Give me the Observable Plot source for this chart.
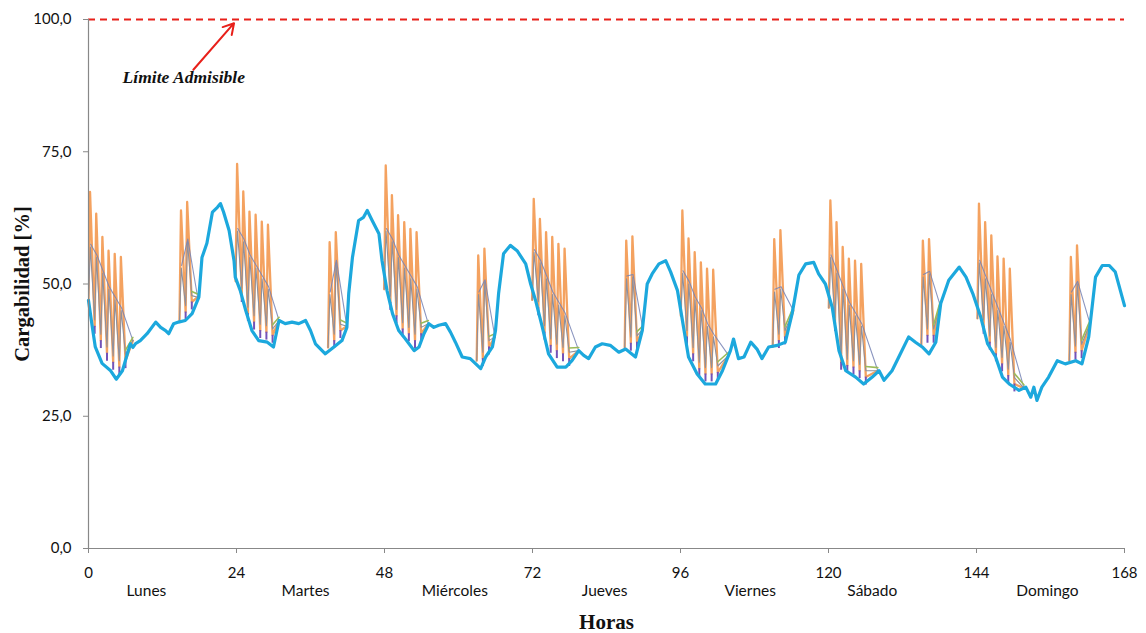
<!DOCTYPE html>
<html><head><meta charset="utf-8">
<script src="https://cdn.jsdelivr.net/npm/d3@7"></script>
<script src="https://cdn.jsdelivr.net/npm/@observablehq/plot@0.6"></script>
<style>body{margin:0;background:#fff}#chart{width:1146px;height:633px}</style>
</head><body><div id="chart"></div>
<script>
// Base load (thick blue line): hour, cargabilidad %
const hours = [0,0.6,1.1,2.2,3.6,4.5,5.5,6.3,6.8,7.2,7.6,8.4,9.5,10.9,11.7,12.5,13,13.8,14.6,15.7,16.8,17.9,18.4,19.2,20.1,20.9,21.4,21.9,22.8,23.6,23.8,24.6,25.5,26.5,27.6,29,30,30.9,31.9,33,34.1,35.2,36,36.8,38.4,39.8,41.1,41.9,42.2,42.8,43.8,44.6,45.2,46,47.1,47.6,48.4,49.3,50.3,51.4,52.8,53.6,54.4,55.2,56,56.8,57.9,58.7,59.5,60.6,61.9,62.8,63.6,64.4,65.5,66,66.5,67.3,68.4,69.5,70.9,71.7,72.5,73.6,74.6,76,77.4,78.4,79.5,80.3,81.1,82.2,83.3,84.6,86,87.1,88.7,89.8,90.6,91.4,92.5,93.6,94.4,95.5,96.5,97.3,98.7,100,101.7,102.8,104.1,104.6,105.4,106.3,107.4,108.4,109.2,110.3,111.7,113,114.1,115.2,116.3,117.6,118.4,119.5,120.6,121.7,122.8,124.4,125.7,127.1,128.2,129,130.3,131.4,133,134.1,135.2,136.3,137.4,138.2,139.5,141.2,142.3,143.4,144.7,145.8,147.1,148.2,149.3,150.9,152,152.8,153.3,153.8,154.6,155.7,157.1,158.4,160.1,161.1,162.2,163.3,164.4,165.5,166.5,168];
const carga = [46.9,42,38.1,35,33.6,32,33.6,36.8,38.7,38,38.7,39.3,40.6,42.8,41.8,41.2,40.6,42.5,42.8,43.1,44.4,47.5,55,57.7,63.6,64.5,65.2,63.6,60.1,54.4,51.3,48.8,45,41.2,39.3,39,38.1,43.1,42.5,42.8,42.5,43.1,41.2,38.7,36.8,38.1,39.3,41.8,48.2,55,62,62.6,63.9,62,59.5,54.4,48.8,44.4,41.2,39.6,37.4,38.1,40.6,42.5,41.8,42.2,42.5,40.9,39,36.2,35.9,34.9,34,36.2,38.1,41.2,48.2,55.7,57.3,56.3,53.8,50,46.9,41.8,36.8,34.3,34.3,35.5,37.4,36.5,35.9,38.1,38.7,38.4,37.1,37.7,36.2,41.2,50,51.9,53.8,54.4,52.3,48.8,41.8,36.2,33,31.1,31.1,33.6,37.4,39.6,35.9,36.2,39,37.7,35.9,38.1,38.4,39,44.4,51.7,53.8,54.1,51.9,50,45.6,37.4,33.6,32.4,31.1,32.4,33.6,31.8,33.6,36.2,40,39,38.1,36.8,39,46.3,50.7,53.2,51.3,48.2,43.7,38.7,36.2,32.4,31.1,29.9,30.5,28.6,30.5,28,30.5,32.4,35.5,34.9,35.5,34.9,40,51.3,53.5,53.5,52.3,45.9];

// Charging windows (spikes every hour starting at windowStart)
const windowStart = [0.25,15,24.1,39.1,48.2,63.2,72.2,87.2,96.3,111.2,120.3,135.3,144.4,159.3];
const windowBase  = [47,43,50.5,38,49,35.5,47,38,44,38.1,45.5,38.4,43.5,35.5];
const windowPeaks = [
  [67.4,63.3,58.9,56.3,55.7,55.1],[63.9,65.5],
  [72.7,67.5,63.7,63.1,61.8,61.2],[57.9,59.8],
  [72.4,66.8,63,61.7,60.4,59.8],[55.4,56.7],
  [66.1,62.3,59.8,58.9,57.6,56.7],[58.2,59],
  [63.9,58.6,56,54.1,52.9,52.7],[58.5,60.2],
  [65.8,61.7,57,54.8,54.4,53.8],[58.2,58.5],
  [65.2,61.7,59.2,55.2,54.8,52.9],[55.1,57.3]];
const windowLows = [
  [42,39.3,36.9,35.2,34.3,35.5],[44.7,46.6],
  [48,44.4,42.8,41.2,40.9,40.3],[39.3,41.2],
  [46.5,44,41.5,40.6,39.3,40.6],[35.9,38.1],
  [45.5,40.9,38.4,37.4,36.8,35.9],[38.8,39],
  [40,36.8,34,33,33,33.3],[39.3,40],
  [42.5,35.2,34.6,34.3,33.6,32.4],[40.3,40.3],
  [42,39,36.8,34.9,32.7,31.1],[37.1,37.4]];
const windowTops = [
  [57,55,52,49,47,45],[53,58],
  [60,58,55,53,51,49],[48,54],
  [60,58,55,53,51,49],[48,50.3],
  [56,54,51,48,46,44],[51,51.3],
  [52,50,47,45,42,40],[48.5,49],
  [55,52,49,46,44,42],[51.3,51.9],
  [54,51,48,45,42,39],[48,50]];
const windowEndHour  = [7.2,17.7,30.9,41.9,55.1,65.9,79.5,89.9,103.8,114.3,128,138.1,151.7,162.4];
const windowEndValue = [39.3,47.5,43.1,42,42.5,40,37.4,41.5,36.5,45,33.6,46,30.3,42.5];

const dayNames = ["Lunes","Martes","Miércoles","Jueves","Viernes","Sábado","Domingo"];
const dayHours = [9.4,35.2,59.4,83.7,107.3,127.1,155.5];
const xTicks = [0,24,48,72,96,120,144,168];
const yTicks = [0,25,50,75,100];
const limite = 100;
const limiteText = "Límite Admisible";
const limiteNote = {h: 15.45, v: 89.0, fromH: 17.0, fromV: 90.5, toH: 23.6, toV: 99.3};

const base = hours.map((h, i) => ({h, v: carga[i]}));
const orange = [], gray = [], env = [], green = [], tips = [];
windowStart.forEach((t0, w) => {
  const P = windowPeaks[w], L = windowLows[w], T = windowTops[w];
  const eh = windowEndHour[w], ev = windowEndValue[w];
  orange.push({w, h: t0 - 0.25, v: windowBase[w]});
  gray.push({w, h: t0 - 0.25, v: windowBase[w]});
  P.forEach((p, i) => {
    const t = t0 + i;
    orange.push({w, h: t, v: p}, {w, h: t + 0.75, v: L[i]});
    gray.push({w, h: t + 0.05, v: T[i]}, {w, h: t + 0.75, v: L[i] + 1.2});
    env.push({w, h: t + 0.1, v: T[i] + 0.5});
    tips.push({h: t + 0.75, v: L[i]});
  });
  orange.push({w, h: eh, v: ev});
  gray.push({w, h: eh, v: ev});
  env.push({w, h: eh, v: ev});
  const last = P.length - 1;
  green.push({w, h: t0 + last + 0.75, v: L[last] + 2}, {w, h: eh, v: ev + 0.6});
});

const fmt = d => d.toFixed(1).replace(".", ",");
const serif = "'Liberation Serif', 'Times New Roman', serif";

const chart = Plot.plot({
  width: 1146, height: 633,
  marginLeft: 88, marginRight: 22, marginTop: 19, marginBottom: 85,
  x: {domain: [0, 168]},
  y: {domain: [0, 100]},
  style: {fontFamily: "Lato, sans-serif", background: "#fff", color: "#111"},
  marks: [
    Plot.ruleY([limite], {stroke: "#e8201a", strokeWidth: 2, strokeDasharray: "7,5"}),
    Plot.line(orange, {x: "h", y: "v", z: "w", stroke: "#f39a52", strokeWidth: 2.3, strokeOpacity: 0.92, clip: true}),
    Plot.line(gray, {x: "h", y: "v", z: "w", stroke: "#8f909c", strokeWidth: 1.1, clip: true}),
    Plot.line(env, {x: "h", y: "v", z: "w", stroke: "#7683b4", strokeWidth: 1.1, strokeOpacity: 0.85, clip: true}),
    Plot.line(green, {x: "h", y: "v", z: "w", stroke: "#9bbb59", strokeWidth: 1.6, clip: true}),
    Plot.ruleX(tips, {x: "h", y1: d => d.v - 1.5, y2: "v", stroke: "#7453b8", strokeWidth: 2}),
    Plot.line(base, {x: "h", y: "v", stroke: "#1ca8dd", strokeWidth: 3.2, strokeLinejoin: "round"}),
    Plot.ruleX([0], {stroke: "#888", strokeWidth: 1.2}),
    Plot.ruleY([0], {stroke: "#888", strokeWidth: 1.2}),
    Plot.axisX({ticks: xTicks, tickSize: 5, tickPadding: 14, fontSize: 15, label: null, stroke: "#888", fill: "#111"}),
    Plot.axisY({ticks: yTicks, tickSize: 5, tickPadding: 12, fontSize: 15, label: null, tickFormat: fmt, stroke: "#888", fill: "#111"}),
    Plot.arrow([limiteNote], {x1: "fromH", y1: "fromV", x2: "toH", y2: "toV", stroke: "#e8201a", strokeWidth: 2, headLength: 9}),
    Plot.text([limiteNote], {x: "h", y: "v", text: () => limiteText, fontFamily: serif, fontWeight: "bold", fontStyle: "italic", fontSize: 17.5, fill: "#111"}),
    Plot.text(dayNames, {x: (d, i) => dayHours[i], text: d => d, frameAnchor: "bottom", lineAnchor: "middle", dy: 43, fontSize: 15.5, fill: "#111"}),
    Plot.text(["Horas"], {frameAnchor: "bottom", lineAnchor: "middle", textAnchor: "middle", dy: 74, text: d => d, fontFamily: serif, fontWeight: "bold", fontSize: 21, fill: "#111"}),
    Plot.text(["Cargabilidad [%]"], {frameAnchor: "left", lineAnchor: "middle", textAnchor: "middle", dx: -66, rotate: -90, text: d => d, fontFamily: serif, fontWeight: "bold", fontSize: 20.5, fill: "#111"})
  ]
});
document.getElementById("chart").appendChild(chart);
</script>
</body></html>
